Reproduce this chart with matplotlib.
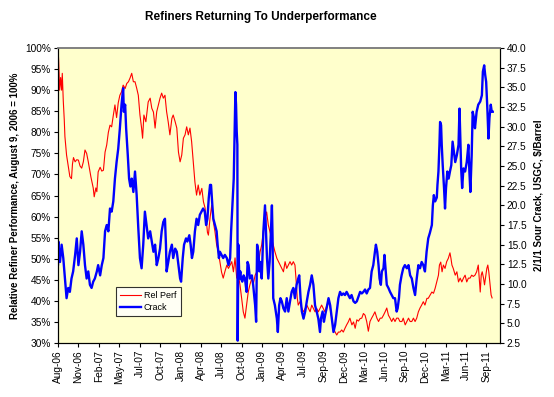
import matplotlib
matplotlib.use("Agg")
import matplotlib.pyplot as plt

plt.rcParams["font.family"] = ["Liberation Sans", "DejaVu Sans"]

# ---- data: x = trading-day index since Aug 9, 2006 ----
tick_labels = ["Aug-06", "Nov-06", "Feb-07", "May-07", "Jul-07", "Oct-07", "Jan-08",
               "Apr-08", "Jul-08", "Oct-08", "Jan-09", "Apr-09", "Jul-09", "Sep-09",
               "Dec-09", "Mar-10", "Jun-10", "Sep-10", "Dec-10", "Mar-11", "Jun-11",
               "Sep-11"]
days_per_tick = 62
n_days = 1343

rel_days = [0, 2, 5, 8, 11, 13, 16, 19, 21, 26, 31, 36, 41, 44, 47, 52, 57, 62, 67, 72,
            77, 82, 87, 92, 100, 107, 110, 115, 118, 122, 128, 133, 138, 143, 148, 153,
            158, 163, 168, 173, 178, 183, 188, 193, 198, 204, 209, 214, 219, 224, 229,
            234, 239, 244, 249, 254, 257, 261, 267, 274, 280, 285, 290, 295, 300, 305,
            310, 315, 320, 325, 330, 335, 340, 346, 350, 356, 361, 366, 371, 376, 381,
            386, 391, 396, 401, 406, 411, 416, 421, 426, 431, 437, 442, 447, 450, 454,
            457, 462, 467, 472, 477, 482, 487, 492, 497, 502, 507, 513, 518, 523, 528,
            533, 538, 543, 548, 553, 558, 563, 568, 573, 578, 583, 589, 593, 599, 604,
            609, 614, 619, 624, 629, 634, 639, 644, 649, 654, 659, 665, 670, 675, 680,
            685, 690, 695, 700, 705, 710, 715, 720, 723, 727, 730, 735, 741, 746, 751,
            756, 761, 766, 771, 776, 781, 786, 791, 796, 801, 806, 811, 817, 822, 827,
            832, 837, 842, 847, 852, 857, 862, 867, 872, 877, 882, 887, 893, 898, 903,
            908, 913, 918, 923, 928, 933, 938, 943, 948, 953, 958, 963, 969, 974, 979,
            984, 989, 994, 999, 1004, 1009, 1014, 1019, 1024, 1029, 1034, 1039, 1045,
            1049, 1055, 1060, 1065, 1070, 1075, 1080, 1085, 1090, 1095, 1100, 1105,
            1110, 1115, 1121, 1125, 1131, 1136, 1141, 1146, 1151, 1156, 1159, 1163,
            1167, 1171, 1176, 1181, 1186, 1191, 1194, 1197, 1201, 1207, 1212, 1217,
            1222, 1227, 1232, 1237, 1242, 1247, 1252, 1257, 1262, 1267, 1272, 1277,
            1280, 1283, 1286, 1289, 1293, 1296, 1300, 1303, 1306, 1309, 1313, 1316, 1319]
rel_perf = [100, 97, 90, 93, 90, 94, 87.5, 83, 79, 74.6, 72, 69.5, 69, 72.5, 74, 73, 73.5,
            73.4, 72, 71.5, 73, 75.8, 75, 73, 69.4, 66.8, 64.7, 66.8, 65.9, 70.6, 71.7,
            70.8, 71, 75.3, 77, 80, 81.7, 81.3, 84, 86.5, 83.5, 87, 88.8, 89.6, 91.2,
            90.4, 91.6, 92, 92.9, 94, 92, 92, 90.5, 88.8, 84.1, 81, 78.6, 84.1, 82.5,
            87.2, 88.1, 85.7, 84.8, 81, 84.9, 86.5, 88.1, 89.3, 88.1, 88.8, 84.9, 82.4,
            79.4, 83.3, 84.1, 82.5, 81, 75.3, 73, 74.6, 78.6, 79.4, 81.3, 79.4, 81, 77.8,
            73, 68.2, 65.1, 67.5, 65.1, 66.7, 63.5, 62, 59.7, 56.3, 55.6, 59.7, 62.7, 58.8,
            56.4, 53.3, 51.7, 49.2, 46.8, 45.4, 46.9, 48.5, 47.7, 48.5, 49.3, 46.9, 50.2,
            45.4, 46.1, 43.8, 40.7, 37.4, 35.9, 39, 42.1, 43.8, 45.4, 43.8, 46.1, 46.9,
            48.5, 51.6, 53.3, 56.4, 59.6, 61.1, 58, 56.4, 54.8, 53.3, 51.7, 50.1, 49.3,
            48.5, 47.7, 46.9, 49.3, 47.7, 48.5, 49.3, 48.5, 49.3, 48.5, 45.4, 40.7, 39,
            39.8, 38.2, 37.4, 38.2, 39, 38.2, 37.4, 39, 38.2, 37.4, 38.2, 37.4, 38.2, 39,
            38.2, 37.4, 39, 39.8, 38.2, 35.9, 33.5, 32.6, 31.9, 32.6, 32.6, 33.1, 32.6,
            33.5, 34.3, 35, 35.9, 34.3, 35, 33.5, 35.5, 35.2, 35.8, 35.9, 37, 36.6, 35.1,
            32.8, 35.1, 35.9, 36.6, 37.4, 35.9, 35.1, 35.9, 35.9, 36.6, 37.4, 38.3, 36.6,
            35.9, 35.1, 35.9, 35.1, 35.9, 35.9, 35.1, 35.1, 35.9, 34.3, 35.1, 35.9, 35.1,
            35.1, 35.9, 35.1, 35.9, 37.4, 38.3, 39, 39.8, 39, 40.6, 40.6, 41.4, 42.1,
            41.8, 43, 44.5, 46.1, 48.5, 49.2, 46.9, 48.5, 47.7, 49.3, 50.1, 51.4, 50.1,
            48.5, 47.7, 46.1, 46.9, 44.5, 45.4, 44.5, 45.4, 46.1, 44.5, 45.4, 45.4, 46.1,
            45.8, 46.1, 46.9, 48.5, 45.4, 42.1, 46.1, 46.9, 45.4, 43.8, 46.1, 47.7, 48.5,
            46.9, 43.8, 41.4, 40.7]

crack_days = [0, 1, 6, 11, 16, 21, 26, 31, 36, 41, 46, 52, 57, 62, 67, 72, 77, 82, 87, 92,
              97, 102, 107, 112, 118, 122, 128, 133, 138, 143, 148, 153, 158, 163, 168,
              173, 178, 183, 188, 193, 198, 200, 204, 207, 212, 216, 220, 224, 229, 234,
              239, 244, 249, 254, 259, 264, 269, 274, 280, 285, 290, 295, 300, 305, 310,
              315, 320, 325, 328, 330, 335, 340, 346, 350, 356, 361, 366, 371, 374, 379,
              383, 389, 393, 399, 403, 407, 411, 416, 421, 426, 431, 436, 441, 446, 450,
              454, 458, 462, 465, 469, 472, 477, 482, 485, 489, 492, 497, 502, 507, 513,
              518, 523, 526, 530, 534, 536, 539, 541, 543, 545, 546, 548, 551, 554, 556,
              560, 564, 568, 573, 576, 579, 583, 589, 593, 599, 602, 605, 609, 612, 615,
              619, 624, 629, 632, 635, 639, 643, 647, 650, 652, 654, 659, 665, 668, 672,
              676, 680, 685, 690, 695, 700, 705, 710, 715, 720, 725, 730, 733, 737, 741,
              746, 751, 756, 761, 766, 771, 776, 781, 786, 791, 796, 799, 804, 808, 812,
              816, 822, 827, 832, 837, 842, 847, 852, 857, 862, 867, 872, 877, 882, 887,
              892, 898, 903, 908, 913, 918, 923, 928, 933, 938, 943, 948, 953, 958, 963,
              966, 970, 974, 977, 981, 984, 989, 992, 996, 999, 1004, 1009, 1014, 1019,
              1024, 1029, 1032, 1036, 1039, 1044, 1049, 1054, 1060, 1065, 1070, 1075,
              1080, 1085, 1090, 1095, 1100, 1105, 1110, 1115, 1120, 1125, 1130, 1136,
              1139, 1142, 1146, 1151, 1153, 1156, 1159, 1161, 1164, 1166, 1169, 1173,
              1176, 1179, 1183, 1187, 1191, 1195, 1199, 1203, 1207, 1212, 1217, 1220,
              1222, 1225, 1228, 1232, 1237, 1242, 1247, 1250, 1253, 1257, 1260, 1264,
              1267, 1272, 1277, 1283, 1288, 1291, 1295, 1298, 1301, 1305, 1308, 1311,
              1315, 1318, 1321]
crack = [12.5, 15.4, 12.8, 15, 13.3, 10.7, 8.2, 9.5, 9.0, 10.7, 11.6, 13.7, 15.8, 12.4,
         14.1, 16.7, 15, 12.4, 10.7, 11.6, 9.9, 9.5, 10.3, 10.7, 11.6, 12.4, 11.1, 12.4,
         13.3, 16.7, 17.5, 16.7, 19.6, 19.2, 20.5, 23.4, 25.5, 27.2, 29.8, 32.8, 34.9,
         31.9, 32.8, 29.8, 26.4, 23.4, 22.4, 23.4, 21.7, 24.3, 21.3, 17.1, 13.3, 12, 15,
         19.2, 17.5, 15.8, 16.7, 15.4, 14.1, 15, 12.4, 13.3, 14.5, 16.7, 17.9, 18.3, 15,
         11.6, 12.8, 14.1, 15, 13.3, 14.5, 14.1, 12.4, 10.7, 10.3, 13.3, 15, 15.8, 15.4,
         16.2, 15, 13.3, 14.1, 16.7, 18.3, 17.5, 18.8, 19.2, 19.6, 19.2, 17.5, 18.3, 20.9,
         22.6, 22.6, 20, 18.3, 17.5, 16.7, 15, 13.3, 14.1, 13.7, 13.3, 13.7, 13.3, 12.4,
         13.3, 16.7, 20, 23.4, 27.7, 34.4, 32.8, 29.4, 27.7, 2.8, 15, 10.7, 11.6, 10.7,
         10.3, 11.1, 10.7, 9.0, 12.8, 12.4, 10.7, 11.1, 9.9, 7.3, 5.2, 15, 14.1, 11.6,
         12.8, 10.7, 16.7, 20, 16.7, 13.3, 10.7, 12.8, 16.7, 20, 15.8, 8.2, 7.3, 5.6, 3.9,
         7.3, 8.2, 7.8, 6.9, 6.5, 8.2, 6.5, 7.8, 9.0, 9.5, 8.2, 9.9, 10.7, 11.1, 8.2, 6.5,
         5.6, 6.5, 7.8, 9.0, 9.9, 11.1, 9.9, 7.3, 6.5, 5.6, 3.9, 5.6, 6.5, 5.2, 6.1, 6.9,
         8.2, 7.3, 5.6, 3.9, 4.8, 6.5, 8.2, 9.0, 8.6, 8.8, 8.6, 9.0, 8.6, 8.2, 8.6, 7.8,
         7.6, 7.8, 8.4, 9.0, 8.8, 9.0, 9.3, 8.8, 9.3, 9.5, 11.6, 12.4, 14.1, 15, 14.1,
         12.4, 10.7, 9.9, 11.6, 12, 13.7, 11.6, 9.9, 9.5, 9.0, 8.6, 8.2, 8.2, 6.5, 6.9,
         8.2, 9.9, 11.1, 12, 12.4, 12, 12.4, 11.1, 10.7, 9.5, 8.6, 10.7, 12.4, 12, 12.8,
         12.4, 11.6, 14.1, 15.8, 16.5, 17.5, 20, 21.3, 20.5, 21, 22.6, 24.3, 27.7, 30.6,
         30.2, 27.7, 25.1, 22.2, 19.6, 22.2, 24.3, 23.4, 24.3, 25.1, 28.1, 26.8, 25.5,
         26.4, 27.7, 32.3, 29.4, 24.7, 22.2, 24.7, 24.3, 25.5, 27.7, 24.3, 21.7, 26.4,
         31.9, 31.1, 29.8, 31.9, 32.8, 33.2, 34, 37, 37.8, 36.6, 35.7, 31.9, 28.5, 31.1,
         32.8, 31.9, 31.9]

# ---- figure ----
fig = plt.figure(figsize=(5.54, 3.97), dpi=100)
ax = fig.add_axes([0.1047, 0.136, 0.7978, 0.743])
ax.set_facecolor("#FFFFCC")
ax2 = ax.twinx()

ax.plot(rel_days, rel_perf, color="#FF0000", lw=0.8, label="Rel Perf")
ax2.plot(crack_days, crack, color="#0000FF", lw=1.7, label="Crack")

ax.set_xlim(0, n_days)
ax.set_ylim(30, 100)
ax2.set_ylim(2.5, 40)

ax.set_xticks([i * days_per_tick for i in range(len(tick_labels))])
ax.set_xticklabels(tick_labels, rotation=90, fontsize=7.3)
ax.set_yticks(range(30, 101, 5))
ax.set_yticklabels([f"{v}%" for v in range(30, 101, 5)], fontsize=7.3)
ax2.set_yticks([2.5 + 2.5 * i for i in range(16)])
ax2.set_yticklabels([f"{2.5 + 2.5 * i:.1f}" for i in range(16)], fontsize=7.3)

for a in (ax, ax2):
    a.tick_params(direction="out", length=3, width=0.8, pad=2)
    a.spines["top"].set_color("#808080")
    a.spines["top"].set_linewidth(1.2)

ax.set_ylabel("Relative Refiner Performance, August 9, 2006 = 100%",
              fontsize=7, fontweight="bold", labelpad=4)
ax2.set_ylabel("2/1/1 Sour Crack, USGC, $/Barrel", fontsize=7,
               fontweight="bold", labelpad=5)

fig.text(0.47, 0.957, "Refiners Returning To Underperformance", ha="center",
         va="center", fontsize=8.5, fontweight="bold")

h1, l1 = ax.get_legend_handles_labels()
h2, l2 = ax2.get_legend_handles_labels()
leg = ax2.legend(h1 + h2, l1 + l2, loc="lower left", bbox_to_anchor=(0.12, 0.075),
                 fontsize=6.5, frameon=True, fancybox=False, handlelength=2.4,
                 borderpad=0.45, labelspacing=0.35, handletextpad=0.3)
leg.get_frame().set_edgecolor("black")
leg.get_frame().set_linewidth(0.8)

fig.savefig("out.png", dpi=100, facecolor="white")
